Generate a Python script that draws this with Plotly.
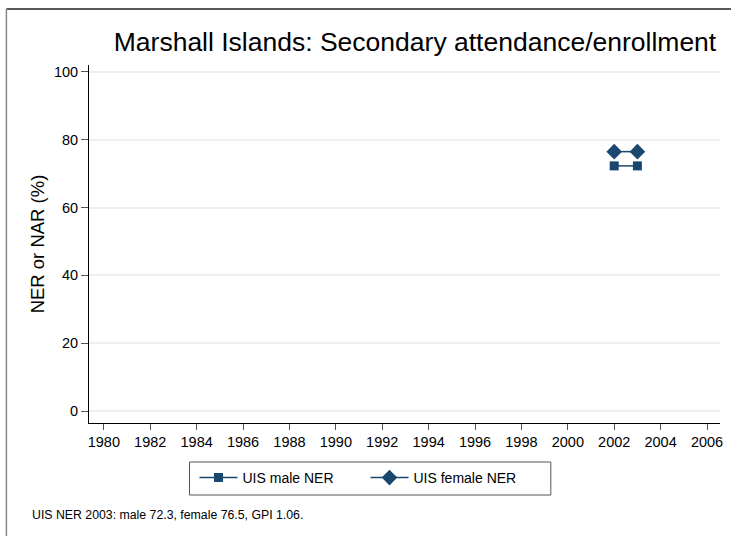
import plotly.graph_objects as go

years = [2002, 2003]
male_ner = [72.3, 72.3]
female_ner = [76.5, 76.5]
x_ticks = list(range(1980, 2007, 2))
y_ticks = [0, 20, 40, 60, 80, 100]

navy = "#1a476f"
font = "Liberation Sans, Arial, sans-serif"

fig = go.Figure()
fig.add_trace(go.Scatter(x=years, y=male_ner, mode="lines+markers", name="UIS male NER",
                         line=dict(color=navy, width=1.5),
                         marker=dict(symbol="square", size=9, color=navy)))
fig.add_trace(go.Scatter(x=years, y=female_ner, mode="lines+markers", name="UIS female NER",
                         line=dict(color=navy, width=1.5),
                         marker=dict(symbol="diamond", size=12, color=navy)))

W, H = 731, 536
ml, mr, mt, mb = 89, 8, 65, 113
pw, ph = W - ml - mr, H - mt - mb

def px2paper_x(px):
    return (px - ml) / pw

def px2paper_y(py):
    return (H - mb - py) / ph

fig.update_layout(
    width=W, height=H,
    margin=dict(l=ml, r=mr, t=mt, b=mb),
    paper_bgcolor="white", plot_bgcolor="white",
    font=dict(family=font, color="black", size=14.5),
    title=dict(text="Marshall Islands: Secondary attendance/enrollment",
               x=415 / W, xanchor="center",
               y=1 - 42 / H, yanchor="middle",
               font=dict(size=26.5, family=font, color="black")),
    showlegend=True,
    legend=dict(orientation="h", x=px2paper_x(195), xanchor="left",
                y=px2paper_y(462), yanchor="top",
                borderwidth=0, bgcolor="rgba(0,0,0,0)",
                font=dict(size=14, family=font),
                entrywidth=118, itemwidth=38),
    xaxis=dict(range=[1979.36, 2006.56], tickmode="array", tickvals=x_ticks,
               showline=True, linecolor="black", linewidth=1,
               ticks="outside", ticklen=6, tickcolor="#555555",
               showgrid=False, zeroline=False,
               tickfont=dict(size=14.5)),
    yaxis=dict(range=[-3.54, 102.06], tickmode="array", tickvals=y_ticks,
               showline=True, linecolor="black", linewidth=1,
               ticks="outside", ticklen=7, tickcolor="#555555",
               showgrid=True, gridcolor="#eaf0f3", gridwidth=1.5,
               zeroline=False,
               title=dict(text="NER or NAR (%)", font=dict(size=18.5), standoff=4),
               tickfont=dict(size=14.5)),
)

fig.add_annotation(text="UIS NER 2003: male 72.3, female 76.5, GPI 1.06.",
                   xref="paper", yref="paper", x=px2paper_x(30), y=px2paper_y(515),
                   xanchor="left", yanchor="middle", showarrow=False,
                   font=dict(size=12.3, family=font))

# legend box
fig.add_shape(type="rect", xref="paper", yref="paper",
              x0=px2paper_x(190), x1=px2paper_x(553), y0=px2paper_y(462), y1=px2paper_y(495),
              line=dict(color="#555555", width=1))

# outer graph border (top and left)
fig.add_shape(type="line", xref="paper", yref="paper",
              x0=px2paper_x(6), x1=px2paper_x(735), y0=px2paper_y(9), y1=px2paper_y(9),
              line=dict(color="#222222", width=1.5))
fig.add_shape(type="line", xref="paper", yref="paper",
              x0=px2paper_x(6), x1=px2paper_x(6), y0=px2paper_y(9), y1=px2paper_y(540),
              line=dict(color="#888888", width=1.5))

fig.write_html("out.html", config={"displayModeBar": False},
               post_script="document.body.style.margin='0';document.body.style.overflow='hidden';")
